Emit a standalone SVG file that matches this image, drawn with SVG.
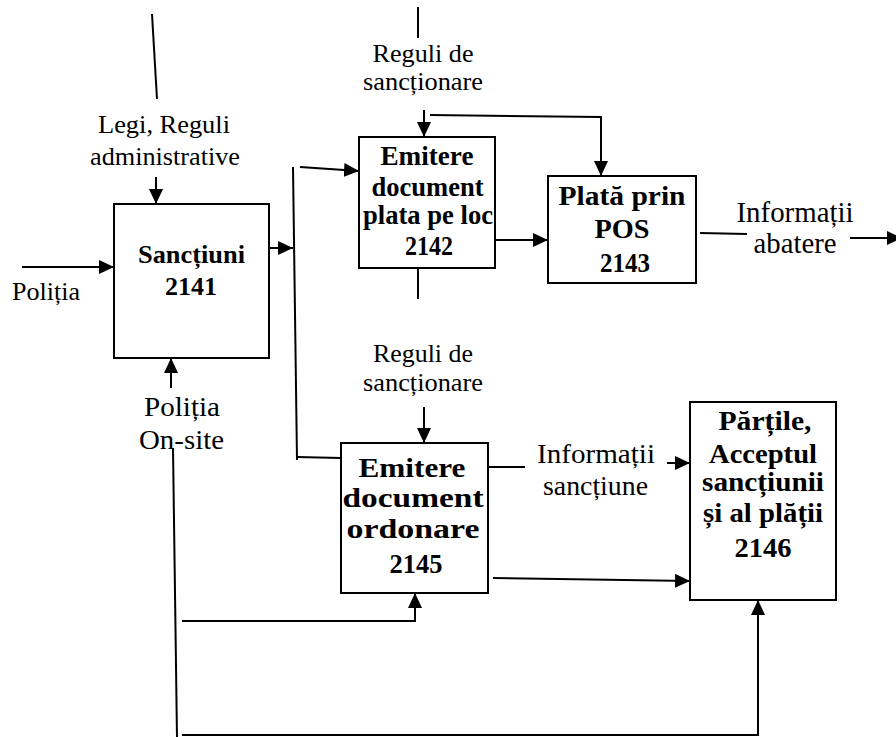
<svg xmlns="http://www.w3.org/2000/svg" width="896" height="737" viewBox="0 0 896 737">
  <style>
    .box { fill: #fff; stroke: #000; stroke-width: 2; }
    .ln { fill: none; stroke: #000; stroke-width: 2; }
    .arr { fill: none; stroke: #000; stroke-width: 2; marker-end: url(#head); }
    .b { font-family: "Liberation Serif", "Times New Roman", serif; font-weight: bold; text-anchor: middle; fill: #000; }
    .t { font-family: "Liberation Serif", "Times New Roman", serif; text-anchor: middle; fill: #000; }
  </style>
  <defs>
    <marker id="head" markerUnits="userSpaceOnUse" markerWidth="15" markerHeight="14" refX="15" refY="7" orient="auto">
      <path d="M0,0 L15,7 L0,14 Z" fill="#000"/>
    </marker>
  </defs>

  <rect width="896" height="737" fill="#fff"/>

  <!-- connectors -->
  <g id="connectors">
    <line class="ln" x1="152" y1="14" x2="157" y2="99"/>
    <line class="arr" x1="156" y1="177" x2="156" y2="204"/>
    <line class="arr" x1="22" y1="267" x2="114" y2="267"/>
    <line class="arr" x1="269" y1="248" x2="293" y2="248"/>
    <line class="ln" x1="293" y1="167" x2="297" y2="460"/>
    <line class="arr" x1="300" y1="167" x2="359" y2="171"/>
    <line class="ln" x1="297" y1="457" x2="341" y2="458"/>
    <line class="ln" x1="418" y1="7" x2="418" y2="38"/>
    <line class="arr" x1="424" y1="110" x2="424" y2="137"/>
    <path class="arr" d="M430,115 L601,117 L601,176"/>
    <line class="arr" x1="493" y1="240" x2="548" y2="240"/>
    <line class="ln" x1="700" y1="233" x2="747" y2="234"/>
    <line class="arr" x1="850" y1="238" x2="902" y2="238"/>
    <line class="ln" x1="418" y1="268" x2="418" y2="299"/>
    <line class="arr" x1="424" y1="407" x2="424" y2="443"/>
    <line class="ln" x1="484" y1="467" x2="525" y2="467"/>
    <line class="arr" x1="667" y1="463" x2="690" y2="463"/>
    <line class="arr" x1="493" y1="578" x2="690" y2="581"/>
    <line class="arr" x1="171" y1="388" x2="171" y2="358"/>
    <line class="ln" x1="173" y1="448" x2="177" y2="737"/>
    <path class="arr" d="M182,621 L415,621 L415,593"/>
    <path class="arr" d="M182,735 L758,735 L758,600"/>
  </g>

  <!-- free labels -->
  <g id="labels">
    <text class="t" font-size="26" x="164" y="133" textLength="132" lengthAdjust="spacingAndGlyphs">Legi, Reguli</text>
    <text class="t" font-size="26" x="165" y="165" textLength="150" lengthAdjust="spacingAndGlyphs">administrative</text>
    <text class="t" font-size="26" x="46" y="300" textLength="68" lengthAdjust="spacingAndGlyphs">Poliția</text>
    <text class="t" font-size="28" x="182" y="416" textLength="76" lengthAdjust="spacingAndGlyphs">Poliția</text>
    <text class="t" font-size="28" x="181.5" y="449" textLength="85" lengthAdjust="spacingAndGlyphs">On-site</text>
    <text class="t" font-size="26" x="423" y="62" textLength="101" lengthAdjust="spacingAndGlyphs">Reguli de</text>
    <text class="t" font-size="26" x="423" y="90" textLength="120" lengthAdjust="spacingAndGlyphs">sancționare</text>
    <text class="t" font-size="29" x="795" y="222" textLength="117" lengthAdjust="spacingAndGlyphs">Informații</text>
    <text class="t" font-size="29" x="795" y="253" textLength="83" lengthAdjust="spacingAndGlyphs">abatere</text>
    <text class="t" font-size="26" x="423" y="362" textLength="100" lengthAdjust="spacingAndGlyphs">Reguli de</text>
    <text class="t" font-size="26" x="423" y="391" textLength="120" lengthAdjust="spacingAndGlyphs">sancționare</text>
    <text class="t" font-size="28" x="596" y="463" textLength="118" lengthAdjust="spacingAndGlyphs">Informații</text>
    <text class="t" font-size="28" x="595.5" y="495" textLength="105" lengthAdjust="spacingAndGlyphs">sancțiune</text>
  </g>

  <!-- function boxes -->
  <g id="n2141">
    <rect class="box" x="114" y="204" width="155" height="154"/>
    <text class="b" font-size="26" x="191.5" y="263" textLength="107" lengthAdjust="spacingAndGlyphs">Sancțiuni</text>
    <text class="b" font-size="26" x="191" y="295">2141</text>
  </g>

  <g id="n2142">
    <rect class="box" x="359" y="137" width="136" height="131"/>
    <text class="b" font-size="27" x="427" y="165" textLength="93" lengthAdjust="spacingAndGlyphs">Emitere</text>
    <text class="b" font-size="27" x="427.5" y="196" textLength="112" lengthAdjust="spacingAndGlyphs">document</text>
    <text class="b" font-size="27" x="428" y="224" textLength="130" lengthAdjust="spacingAndGlyphs">plata pe loc</text>
    <text class="b" font-size="27" x="429" y="255" textLength="48" lengthAdjust="spacingAndGlyphs">2142</text>
  </g>

  <g id="n2143">
    <rect class="box" x="548" y="176" width="148" height="107"/>
    <text class="b" font-size="28" x="622" y="205" textLength="127" lengthAdjust="spacingAndGlyphs">Plată prin</text>
    <text class="b" font-size="28" x="622" y="238" textLength="55" lengthAdjust="spacingAndGlyphs">POS</text>
    <text class="b" font-size="28" x="625" y="272" textLength="50" lengthAdjust="spacingAndGlyphs">2143</text>
  </g>

  <g id="n2145">
    <rect class="box" x="341" y="443" width="147" height="150"/>
    <text class="b" font-size="27" x="412" y="477" textLength="107" lengthAdjust="spacingAndGlyphs">Emitere</text>
    <text class="b" font-size="27" x="413" y="507" textLength="141" lengthAdjust="spacingAndGlyphs">document</text>
    <text class="b" font-size="27" x="413" y="538" textLength="133" lengthAdjust="spacingAndGlyphs">ordonare</text>
    <text class="b" font-size="27" x="416" y="573" textLength="53" lengthAdjust="spacingAndGlyphs">2145</text>
  </g>

  <g id="n2146">
    <rect class="box" x="690" y="402" width="146" height="198"/>
    <text class="b" font-size="28" x="765" y="430" textLength="93" lengthAdjust="spacingAndGlyphs">Părțile,</text>
    <text class="b" font-size="28" x="763" y="463" textLength="108" lengthAdjust="spacingAndGlyphs">Acceptul</text>
    <text class="b" font-size="28" x="763" y="491" textLength="122" lengthAdjust="spacingAndGlyphs">sancțiunii</text>
    <text class="b" font-size="28" x="763" y="522" textLength="120" lengthAdjust="spacingAndGlyphs">și al plății</text>
    <text class="b" font-size="28" x="763" y="557" textLength="57" lengthAdjust="spacingAndGlyphs">2146</text>
  </g>
</svg>
